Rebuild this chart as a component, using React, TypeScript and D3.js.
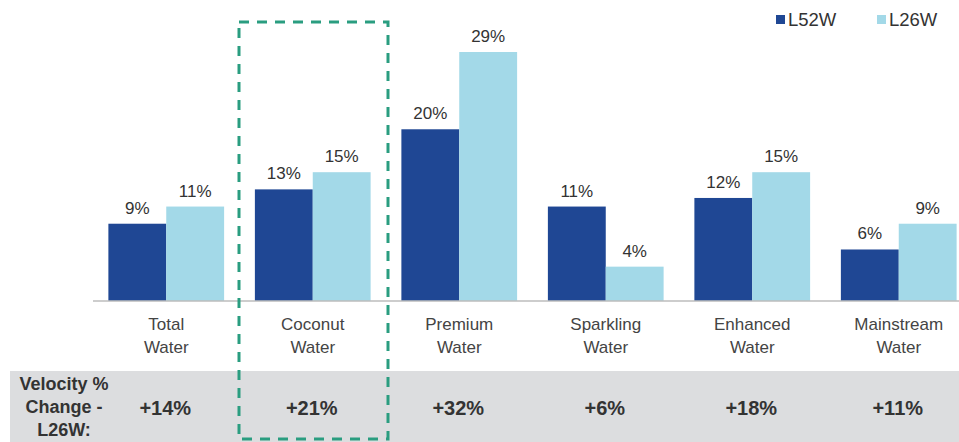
import * as d3 from "d3";

const categories = ["Total Water", "Coconut Water", "Premium Water", "Sparkling Water", "Enhanced Water", "Mainstream Water"];
const seriesNames = ["L52W", "L26W"];
const l52w = [9, 13, 20, 11, 12, 6];
const l26w = [11, 15, 29, 4, 15, 9];
const velocityChange = ["+14%", "+21%", "+32%", "+6%", "+18%", "+11%"];
const velocityLabel = ["Velocity %", "Change -", "L26W:"];

const colors = ["#1f4794", "#a3d9e8"];
const font = "'Liberation Sans', Arial, Helvetica, sans-serif";

export default function App() {
  const width = 959;
  const height = 442;
  const baseline = 301;

  const x = d3
    .scaleBand<string>()
    .domain(categories)
    .range([93, 972])
    .paddingInner(0.21)
    .paddingOuter(0.105);

  const xs = d3.scaleBand<string>().domain(seriesNames).range([0, x.bandwidth()]);

  const y = d3.scaleLinear().domain([0, 29]).range([baseline, 52]);

  const series = [l52w, l26w];

  return (
    <div style={{ position: "absolute", left: 0, top: 0 }}>
      <svg width={width} height={height} style={{ display: "block", fontFamily: font }}>
        <rect x={0} y={0} width={width} height={height} fill="#ffffff" />

        {/* bottom band */}
        <rect x={10} y={371} width={width - 10} height={height - 371} fill="#dcdddf" />

        {/* legend */}
        {seriesNames.map((s, i) => {
          const lx = i === 0 ? 776 : 877;
          return (
            <g key={s}>
              <rect x={lx} y={15} width={9} height={9} fill={colors[i]} />
              <text x={lx + 12} y={26} fontSize={18.5} fill="#333">
                {s}
              </text>
            </g>
          );
        })}

        {/* bars */}
        {categories.map((c, ci) => (
          <g key={c} transform={`translate(${x(c)},0)`}>
            {series.map((vals, si) => {
              const v = vals[ci];
              const bx = xs(seriesNames[si])!;
              return (
                <g key={si}>
                  <rect
                    x={bx}
                    y={y(v)}
                    width={xs.bandwidth()}
                    height={baseline - y(v)}
                    fill={colors[si]}
                  />
                  <text
                    x={bx + xs.bandwidth() / 2}
                    y={y(v) - 10}
                    textAnchor="middle"
                    fontSize={17}
                    fill="#333"
                  >
                    {v}%
                  </text>
                </g>
              );
            })}
          </g>
        ))}

        {/* axis line */}
        <line x1={93} x2={width} y1={baseline} y2={baseline} stroke="#bdbdbd" strokeWidth={1.5} />

        {/* category labels */}
        {categories.map((c) => {
          const cx = x(c)! + x.bandwidth() / 2;
          const words = c.split(" ");
          return (
            <text key={c} x={cx} textAnchor="middle" fontSize={17} fill="#444">
              <tspan x={cx} y={330}>
                {words[0]}
              </tspan>
              <tspan x={cx} y={353}>
                {words[1]}
              </tspan>
            </text>
          );
        })}

        {/* velocity row */}
        {velocityLabel.map((t, i) => (
          <text key={t} x={64} y={390 + i * 23} textAnchor="middle" fontSize={18} fontWeight="bold" fill="#333">
            {t}
          </text>
        ))}
        {categories.map((c, i) => (
          <text
            key={c}
            x={x(c)! + x.bandwidth() / 2 - 1}
            y={415}
            textAnchor="middle"
            fontSize={20}
            fontWeight="bold"
            fill="#333"
          >
            {velocityChange[i]}
          </text>
        ))}

        {/* highlight box */}
        <rect
          x={239}
          y={22}
          width={149}
          height={417}
          fill="none"
          stroke="#2a9d80"
          strokeWidth={3}
          strokeDasharray="10,8"
        />
      </svg>
    </div>
  );
}
